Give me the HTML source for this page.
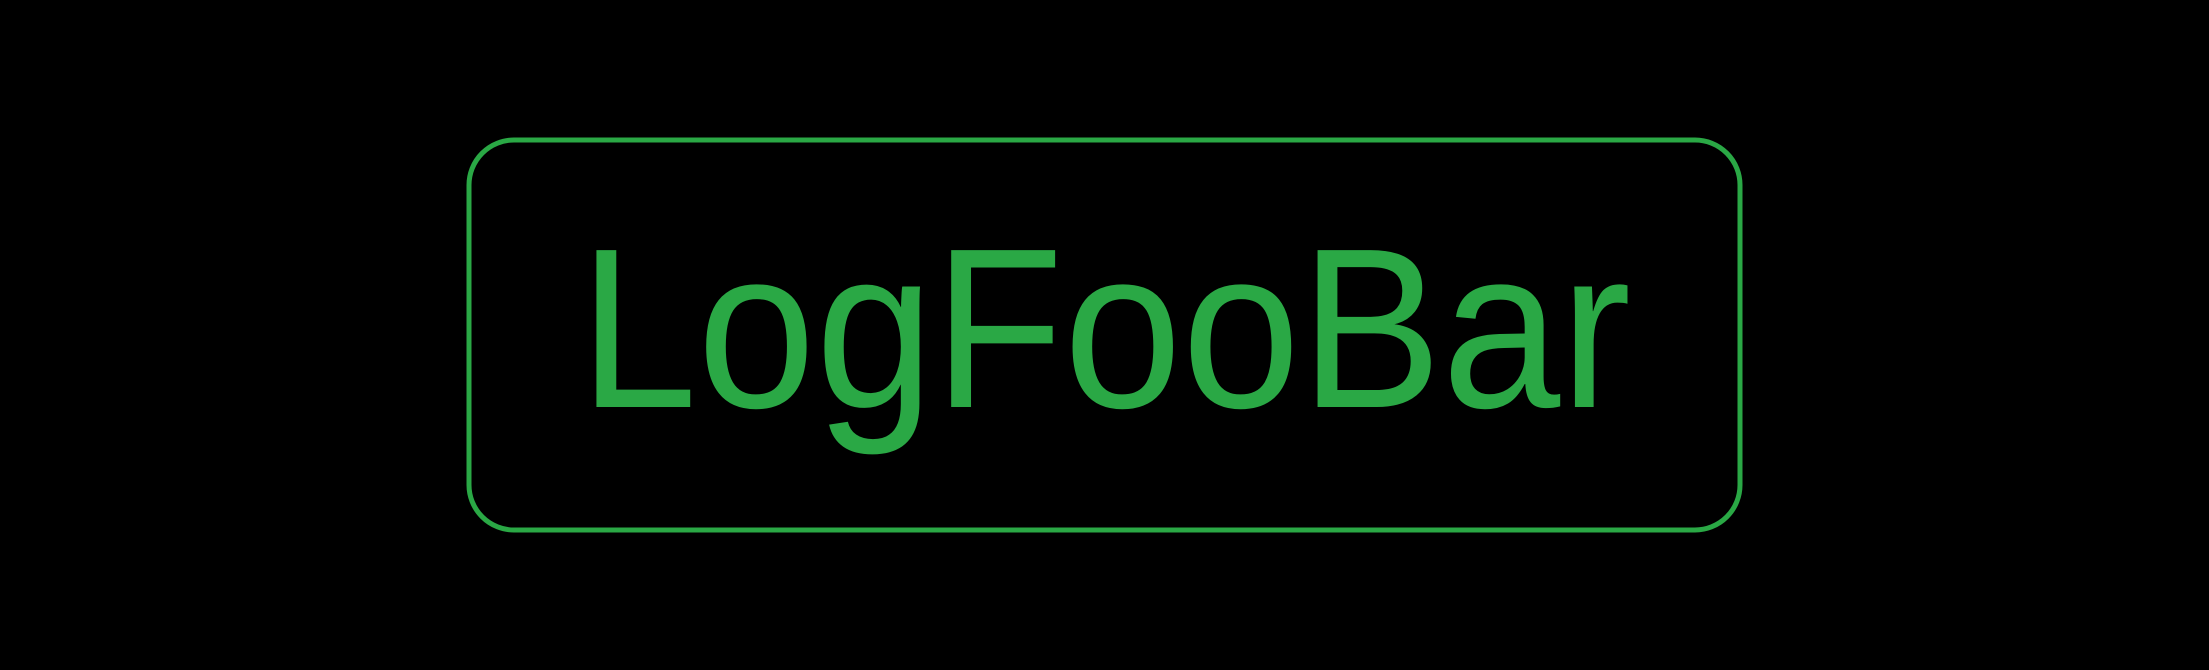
<!DOCTYPE html>
<html><head><meta charset="utf-8"><style>
html,body{margin:0;padding:0;background:#000;width:2209px;height:670px;overflow:hidden}
</style></head><body>
<svg width="2209" height="670" viewBox="0 0 2209 670">
<rect x="0" y="0" width="2209" height="670" fill="#000"/>
<rect x="469" y="140" width="1271" height="390" rx="45" ry="45" fill="none" stroke="#2aa845" stroke-width="5"/>
<text x="579" y="407" font-family="Liberation Sans, sans-serif" font-size="228" fill="#2aa845" textLength="1052" lengthAdjust="spacingAndGlyphs">LogFooBar</text>
</svg>
</body></html>
